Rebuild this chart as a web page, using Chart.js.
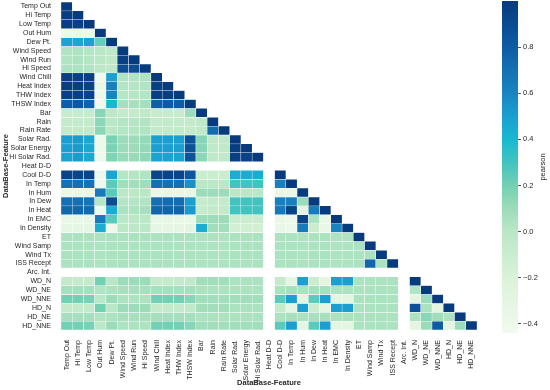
<!DOCTYPE html>
<html>
<head>
<meta charset="utf-8">
<script src="https://cdn.jsdelivr.net/npm/chart.js@4.4.1/dist/chart.umd.min.js"></script>
<style>
  html, body { margin: 0; padding: 0; background: #fff; }
  #wrap { position: relative; width: 550px; height: 390px; }
  #wrap canvas { position: absolute; left: 0; top: 0; }
</style>
</head>
<body>
<div id="wrap">
  <canvas id="heat" width="550" height="390"></canvas>
  <canvas id="bar" width="550" height="390"></canvas>
</div>
<script>
'use strict';

var features = ['Temp Out', 'Hi Temp', 'Low Temp', 'Out Hum', 'Dew Pt.', 'Wind Speed', 'Wind Run',
    'Hi Speed', 'Wind Chill', 'Heat Index', 'THW Index', 'THSW Index', 'Bar', 'Rain', 'Rain Rate',
    'Solar Rad.', 'Solar Energy', 'Hi Solar Rad.', 'Heat D-D', 'Cool D-D', 'In Temp', 'In Hum',
    'In Dew', 'In Heat', 'In EMC', 'In Density', 'ET', 'Wind Samp', 'Wind Tx', 'ISS Recept',
    'Arc. Int.', 'WD_N', 'WD_NE', 'WD_NNE', 'HD_N', 'HD_NE', 'HD_NNE'];

// lower triangle of the pearson matrix, row by row (null = constant column)
var pearson = [
    [1],
    [0.99, 1],
    [0.99, 0.97, 1],
    [-0.38, -0.37, -0.39, 1],
    [0.48, 0.47, 0.49, 0.22, 1],
    [0.03, 0.04, 0.02, 0.0, -0.03, 1],
    [0.03, 0.04, 0.02, 0.0, -0.03, 0.97, 1],
    [0.04, 0.05, 0.03, -0.01, -0.03, 0.9, 0.9, 1],
    [0.98, 0.97, 0.97, -0.40, 0.50, 0.03, 0.03, 0.04, 1],
    [0.98, 0.98, 0.96, -0.36, 0.62, 0.02, 0.02, 0.03, 0.97, 1],
    [0.97, 0.97, 0.96, -0.38, 0.60, 0.01, 0.01, 0.02, 0.98, 0.99, 1],
    [0.80, 0.82, 0.77, -0.42, 0.40, 0.06, 0.06, 0.07, 0.79, 0.81, 0.80, 1],
    [-0.08, -0.08, -0.07, 0.15, -0.02, -0.05, -0.05, -0.04, -0.08, -0.08, -0.08, 0.10, 1],
    [-0.05, -0.05, -0.05, 0.14, 0.0, 0.02, 0.02, 0.03, -0.05, -0.05, -0.05, -0.06, -0.03, 1],
    [-0.05, -0.05, -0.05, 0.14, 0.0, 0.02, 0.02, 0.03, -0.05, -0.05, -0.05, -0.06, -0.03, 0.72, 1],
    [0.50, 0.52, 0.47, -0.40, 0.18, 0.10, 0.10, 0.12, 0.50, 0.50, 0.50, 0.86, 0.15, -0.04, -0.04, 1],
    [0.50, 0.52, 0.47, -0.40, 0.18, 0.10, 0.10, 0.12, 0.50, 0.50, 0.50, 0.86, 0.15, -0.04, -0.04, 0.99, 1],
    [0.49, 0.51, 0.46, -0.40, 0.17, 0.11, 0.11, 0.13, 0.49, 0.49, 0.49, 0.85, 0.14, -0.04, -0.04, 0.97, 0.96, 1],
    [null, null, null, null, null, null, null, null, null, null, null, null, null, null, null, null, null, null, null],
    [0.95, 0.94, 0.94, -0.40, 0.48, 0.02, 0.02, 0.03, 0.94, 0.95, 0.94, 0.84, -0.10, -0.10, -0.10, 0.45, 0.45, 0.44, null, 1],
    [0.70, 0.71, 0.68, -0.40, 0.25, 0.08, 0.08, 0.09, 0.70, 0.70, 0.70, 0.56, 0.0, 0.0, 0.0, 0.30, 0.30, 0.30, null, 0.62, 1],
    [-0.35, -0.35, -0.34, 0.65, 0.25, 0.0, 0.0, 0.0, -0.35, -0.34, -0.35, -0.35, 0.10, 0.10, 0.10, 0.0, 0.0, 0.0, null, -0.36, -0.35, 1],
    [0.70, 0.70, 0.68, 0.02, 0.90, 0.02, 0.02, 0.03, 0.70, 0.72, 0.72, 0.50, -0.08, -0.05, -0.05, 0.30, 0.30, 0.30, null, 0.62, 0.62, 0.10, 1],
    [0.75, 0.75, 0.73, -0.40, 0.45, 0.05, 0.05, 0.06, 0.75, 0.76, 0.76, 0.52, -0.08, -0.05, -0.05, 0.30, 0.30, 0.30, null, 0.66, 0.95, -0.30, 0.65, 1],
    [-0.35, -0.35, -0.34, 0.64, 0.25, 0.0, 0.0, 0.0, -0.35, -0.34, -0.35, -0.35, 0.10, 0.10, 0.10, -0.10, -0.10, -0.10, null, -0.36, -0.38, 0.95, 0.05, -0.35, 1],
    [-0.32, -0.32, -0.31, 0.45, -0.40, -0.02, -0.02, -0.02, -0.32, -0.33, -0.33, -0.30, 0.45, 0.08, 0.08, -0.15, -0.15, -0.15, null, -0.35, -0.38, 0.65, -0.10, -0.36, 0.60, 1],
    [0.05, 0.05, 0.05, 0.04, 0.05, 0.05, 0.05, 0.05, 0.05, 0.05, 0.05, 0.05, 0.04, 0.04, 0.04, 0.05, 0.05, 0.05, null, 0.05, 0.05, 0.04, 0.05, 0.05, 0.04, 0.04, 1],
    [0.05, 0.05, 0.05, 0.04, 0.05, 0.05, 0.05, 0.05, 0.05, 0.05, 0.05, 0.05, 0.04, 0.04, 0.04, 0.05, 0.05, 0.05, null, 0.05, 0.05, 0.04, 0.05, 0.05, 0.04, 0.04, 0.05, 1],
    [0.05, 0.05, 0.05, 0.04, 0.05, 0.05, 0.05, 0.05, 0.05, 0.05, 0.05, 0.05, 0.04, 0.04, 0.04, 0.05, 0.05, 0.05, null, 0.05, 0.05, 0.04, 0.05, 0.05, 0.04, 0.04, 0.05, 0.05, 1],
    [0.05, 0.05, 0.05, 0.04, 0.05, 0.05, 0.05, 0.05, 0.05, 0.05, 0.05, 0.05, 0.04, 0.04, 0.04, 0.05, 0.05, 0.05, null, 0.05, 0.05, 0.04, 0.05, 0.05, 0.04, 0.04, 0.05, 0.75, 0.05, 1],
    [null, null, null, null, null, null, null, null, null, null, null, null, null, null, null, null, null, null, null, null, null, null, null, null, null, null, null, null, null, null, null],
    [-0.05, -0.05, -0.05, 0.20, 0.0, 0.10, 0.10, 0.10, -0.05, -0.05, -0.05, -0.04, 0.08, 0.08, 0.08, 0.05, 0.05, 0.05, null, -0.05, -0.30, 0.50, -0.10, -0.30, 0.50, 0.50, 0.05, 0.05, 0.05, 0.05, null, 1],
    [0.07, 0.07, 0.07, 0.03, 0.05, 0.06, 0.06, 0.06, 0.07, 0.07, 0.07, 0.07, 0.05, 0.05, 0.05, 0.05, 0.05, 0.05, null, 0.05, 0.06, 0.05, 0.06, 0.06, 0.05, 0.05, 0.05, 0.05, 0.05, 0.05, null, 0.03, 1],
    [0.20, 0.20, 0.19, -0.02, 0.10, 0.04, 0.04, 0.04, 0.20, 0.20, 0.20, 0.15, 0.08, 0.08, 0.08, 0.08, 0.08, 0.08, null, 0.25, 0.50, -0.30, 0.25, 0.50, -0.30, -0.30, 0.05, 0.05, 0.05, 0.05, null, -0.30, 0.10, 1],
    [-0.05, -0.05, -0.05, 0.20, 0.0, 0.10, 0.10, 0.10, -0.05, -0.05, -0.05, -0.04, 0.08, 0.08, 0.08, 0.05, 0.05, 0.05, null, -0.05, -0.30, 0.50, -0.10, -0.30, 0.50, 0.50, 0.05, 0.05, 0.05, 0.05, null, 0.87, 0.05, -0.30, 1],
    [0.07, 0.07, 0.07, 0.03, 0.05, 0.06, 0.06, 0.06, 0.07, 0.07, 0.07, 0.07, 0.05, 0.05, 0.05, 0.05, 0.05, 0.05, null, 0.05, 0.06, 0.05, 0.06, 0.06, 0.05, 0.05, 0.05, 0.05, 0.05, 0.05, null, 0.04, 0.15, 0.08, 0.04, 1],
    [0.20, 0.20, 0.19, -0.02, 0.10, 0.04, 0.04, 0.04, 0.20, 0.20, 0.20, 0.15, 0.08, 0.08, 0.08, 0.08, 0.08, 0.08, null, 0.25, 0.50, -0.30, 0.25, 0.50, -0.30, -0.30, 0.05, 0.05, 0.05, 0.05, null, -0.30, 0.10, 0.80, -0.30, 0.10, 1]
];

var barMin = -0.44;
var barMax = 1.0;
var barTicks = [-0.4, -0.2, 0.0, 0.2, 0.4, 0.6, 0.8];

var colorStops = [
    [-0.44, '#f2faef'], [-0.2, '#daf2d8'], [0.0, '#bae7c6'], [0.1, '#9cdcba'],
    [0.2, '#72d0b4'], [0.3, '#42c3bf'], [0.4, '#19b8d1'], [0.5, '#1a9fd0'],
    [0.6, '#1a84c2'], [0.8, '#0e5ca5'], [1.0, '#083b7e']
];

var textColor = '#262626';
var fontFamily = 'Liberation Sans, Arial, Helvetica, sans-serif';
Chart.defaults.font.family = fontFamily;
Chart.defaults.color = textColor;

drawHeatmap();
drawColorbar();


function hexToRgb(h) {
    return [parseInt(h.substr(1, 2), 16), parseInt(h.substr(3, 2), 16), parseInt(h.substr(5, 2), 16)];
}

function colorFor(v) {
    if (v === null || v === undefined) return 'rgba(0,0,0,0)';
    if (v <= colorStops[0][0]) return colorStops[0][1];
    for (var k = 1; k < colorStops.length; k++) {
        if (v <= colorStops[k][0]) {
            var a = colorStops[k - 1], b = colorStops[k];
            var t = (v - a[0]) / (b[0] - a[0]);
            var ca = hexToRgb(a[1]), cb = hexToRgb(b[1]);
            var c = ca.map(function (x, i) { return Math.round(x + (cb[i] - x) * t); });
            return 'rgb(' + c.join(',') + ')';
        }
    }
    return colorStops[colorStops.length - 1][1];
}

// chart.js reserves half a label above/below vertical axes; we don't want that here
function noEdgePadding(s) {
    s.paddingTop = 0;
    s.paddingBottom = 0;
    s.paddingLeft = 0;
    s.paddingRight = 0;
}

function drawHeatmap() {
    var ctx = document.getElementById('heat').getContext('2d');
    var datasets = features.map(function (name, i) {
        var row = pearson[i];
        return {
            label: name,
            data: features.map(function (_, j) {
                return (j < row.length && row[j] !== null) ? [i, i + 1] : null;
            }),
            backgroundColor: features.map(function (_, j) { return colorFor(j < row.length ? row[j] : null); }),
            borderColor: 'rgba(255,255,255,0.85)',
            borderWidth: 0.5,
            borderSkipped: false,
            grouped: false,
            barPercentage: 1,
            categoryPercentage: 1
        };
    });

    new Chart(ctx, {
        type: 'bar',
        data: { labels: features, datasets: datasets },
        options: {
            responsive: false,
            animation: false,
            layout: { padding: { left: 0, top: 2, right: 73, bottom: 0 } },
            plugins: { legend: { display: false }, tooltip: { enabled: false } },
            scales: {
                x: {
                    grid: { display: false },
                    border: { display: false },
                    ticks: { autoSkip: false, minRotation: 90, maxRotation: 90, padding: 2,
                        font: { size: 7 } },
                    title: { display: true, text: 'DataBase-Feature', font: { size: 7.5, weight: 'bold' },
                        padding: { top: 0, bottom: 3 } },
                    afterFit: function (s) { noEdgePadding(s); s.height = 60; }
                },
                y: {
                    type: 'linear',
                    reverse: true,
                    min: 0,
                    max: features.length,
                    grid: { display: false },
                    border: { display: false },
                    afterBuildTicks: function (s) {
                        s.ticks = features.map(function (_, i) { return { value: i + 0.5 }; });
                    },
                    ticks: {
                        autoSkip: false, padding: 2, font: { size: 7 },
                        callback: function (v) { return features[Math.floor(v)]; }
                    },
                    title: { display: true, text: 'DataBase-Feature', font: { size: 7.5, weight: 'bold' },
                        padding: { top: 1, bottom: 2 } },
                    afterFit: function (s) { noEdgePadding(s); s.width = 61; }
                }
            }
        }
    });
}

function drawColorbar() {
    var ctx = document.getElementById('bar').getContext('2d');

    var gradientFill = function (context) {
        var chart = context.chart;
        if (!chart.chartArea) return null;
        var y = chart.scales.y;
        var g = chart.ctx.createLinearGradient(0, y.getPixelForValue(barMin), 0, y.getPixelForValue(barMax));
        colorStops.forEach(function (s) {
            g.addColorStop(Math.min(1, Math.max(0, (s[0] - barMin) / (barMax - barMin))), s[1]);
        });
        return g;
    };

    var pearsonLabel = {
        id: 'pearsonLabel',
        afterDraw: function (chart) {
            var c = chart.ctx;
            var area = chart.chartArea;
            c.save();
            c.translate(543, (area.top + area.bottom) / 2);
            c.rotate(-Math.PI / 2);
            c.font = '7.5px ' + fontFamily;
            c.fillStyle = textColor;
            c.textAlign = 'center';
            c.textBaseline = 'middle';
            c.fillText('pearson', 0, 0);
            c.restore();
        }
    };

    new Chart(ctx, {
        type: 'bar',
        data: {
            labels: [''],
            datasets: [{
                data: [[barMin, barMax]],
                backgroundColor: gradientFill,
                borderWidth: 0,
                barPercentage: 1,
                categoryPercentage: 1
            }]
        },
        options: {
            responsive: false,
            animation: false,
            layout: { padding: { left: 502, top: 1, right: 0, bottom: 57 } },
            plugins: { legend: { display: false }, tooltip: { enabled: false } },
            scales: {
                x: { display: false },
                y: {
                    position: 'right',
                    min: barMin,
                    max: barMax,
                    afterBuildTicks: function (s) {
                        s.ticks = barTicks.map(function (v) { return { value: v }; });
                    },
                    grid: { drawOnChartArea: false, tickLength: 3, color: textColor, lineWidth: 0.8 },
                    border: { display: false },
                    ticks: {
                        padding: 2, font: { size: 7.5 },
                        callback: function (v) {
                            var s = Math.abs(v).toFixed(1);
                            return v < -1e-9 ? '\u2212' + s : s;
                        }
                    },
                    afterFit: function (s) { noEdgePadding(s); s.width = 32; }
                }
            }
        },
        plugins: [pearsonLabel]
    });
}
</script>
</body>
</html>
